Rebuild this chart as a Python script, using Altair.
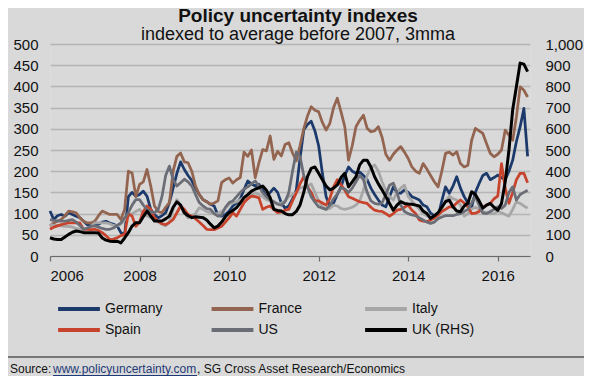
import altair as alt
import pandas as pd

# legend order is filled column by column (2 rows x 3 columns)
series_names = ["Germany", "Spain", "France", "US", "Italy", "UK (RHS)"]
series_colors = ["#1b3a6b", "#c8432c", "#93644f", "#6b6d76", "#a6a6a6", "#000000"]

start_year = 2006
x_ticks = [2006, 2008, 2010, 2012, 2014, 2016]
left_ticks = [0, 50, 100, 150, 200, 250, 300, 350, 400, 450, 500]
right_ticks = [0, 100, 200, 300, 400, 500, 600, 700, 800, 900, 1000]

# monthly values, Jan 2006 .. Sep 2016 (3mma)
germany = [
    106, 86, 95, 98, 94, 102, 98, 94, 90, 82, 74, 71,
    73, 75, 80, 82, 78, 75, 71, 55, 50, 140, 150, 141,
    145, 153, 141, 110, 98, 90, 95, 102, 126, 160, 195, 222,
    204, 190, 178, 160, 145, 133, 128, 122, 118, 96, 94, 98,
    106, 118, 125, 135, 157, 177, 170, 165, 169, 155, 141, 150,
    160, 150, 125, 113, 118, 135, 155, 230, 297, 310, 318, 295,
    260, 195, 140, 118, 125, 145, 163, 190, 210, 200, 195, 198,
    190, 180, 160, 145, 132, 120, 116, 140, 163, 150, 148, 156,
    150, 140, 136, 132, 120, 116, 101, 95, 93, 130, 163, 148,
    165, 187, 160, 140, 125, 116, 150, 171, 190, 195, 180, 185,
    191, 185, 180, 200, 226, 270, 305, 348, 235,
]
france = [
    71, 78, 82, 86, 95, 106, 104, 102, 90, 82, 78, 78,
    82, 95, 106, 102, 98, 98, 98, 86, 110, 200, 196, 140,
    169, 175, 204, 165, 118, 105, 102, 115, 126, 200, 235, 243,
    222, 220, 200, 165, 145, 133, 128, 122, 125, 130, 173, 180,
    184, 172, 180, 185, 245, 235, 250, 185, 220, 251, 248, 283,
    228, 247, 236, 263, 267, 243, 224, 260, 300, 330, 352, 344,
    340, 315, 297, 313, 350, 372, 340, 305, 226, 260, 305, 320,
    332, 301, 293, 295, 305, 280, 240, 226, 240, 250, 258, 245,
    230, 210, 200, 195, 218, 205, 190, 175, 163, 200, 242, 245,
    238, 246, 218, 210, 214, 273, 301, 295, 289, 265, 242, 234,
    240, 250, 297, 285, 273, 328, 399, 391, 375,
]
italy = [
    75, 72, 72, 71, 70, 70, 68, 65, 63, 63, 65, 70,
    78, 78, 78, 78, 76, 72, 71, 75, 85, 94, 100, 105,
    110, 100, 95, 90, 85, 80, 75, 71, 80, 110, 133, 120,
    102, 90, 95, 100, 114, 110, 105, 102, 100, 100, 105, 112,
    122, 125, 128, 133, 138, 141, 145, 149, 145, 140, 133, 130,
    126, 124, 125, 130, 140, 145, 150, 160, 163, 165, 170, 150,
    130, 116, 110, 112, 120, 118, 112, 110, 112, 115, 120, 130,
    155, 190, 207, 215, 200, 175, 155, 140, 132, 150, 160, 167,
    140, 130, 120, 110, 100, 95, 90, 88, 92, 110, 130, 141,
    135, 132, 120, 94, 100, 111, 115, 110, 105, 103, 100, 100,
    105, 102, 98, 94, 110, 128, 124, 118, 113,
]
spain = [
    63, 68, 71, 74, 76, 78, 78, 78, 78, 63, 63, 62,
    63, 60, 55, 48, 39, 40, 43, 48, 51, 100, 94, 70,
    80, 105, 118, 110, 90, 82, 76, 74, 79, 86, 102, 118,
    110, 98, 94, 88, 80, 72, 63, 62, 62, 66, 70, 80,
    90, 102, 94, 110, 126, 135, 141, 140, 137, 110, 115, 118,
    110, 102, 104, 108, 110, 130, 149, 170, 187, 163, 150, 130,
    130, 125, 120, 136, 163, 180, 168, 155, 140, 136, 132, 128,
    126, 124, 115, 108, 106, 105, 100, 94, 100, 108, 110, 115,
    120, 108, 100, 85, 82, 81, 85, 90, 97, 105, 110, 116,
    116, 125, 132, 125, 116, 100, 101, 105, 115, 120, 124, 135,
    141, 218, 160, 124, 150, 180, 195, 195, 173,
]
us = [
    86, 84, 83, 82, 82, 84, 86, 80, 72, 63, 66, 70,
    71, 68, 65, 63, 63, 66, 72, 78, 90, 102, 120, 133,
    133, 120, 110, 104, 102, 110, 140, 190, 212, 180, 165, 173,
    181, 175, 165, 145, 126, 118, 112, 110, 100, 94, 96, 115,
    126, 130, 140, 150, 158, 163, 170, 177, 165, 149, 140, 133,
    128, 122, 120, 128, 150, 200, 245, 236, 190, 163, 140, 127,
    116, 113, 110, 120, 135, 146, 161, 158, 150, 160, 175, 190,
    180, 150, 130, 124, 122, 125, 145, 167, 172, 150, 120, 105,
    100, 97, 95, 90, 85, 80, 77, 80, 88, 92, 95, 95,
    95, 98, 100, 105, 110, 125, 141, 120, 101, 100, 105, 110,
    116, 112, 120, 150, 163, 132, 145, 150, 155,
]
uk_rhs = [
    86, 80, 78, 78, 90, 102, 112, 118, 115, 110, 110, 110,
    110, 108, 85, 75, 70, 68, 70, 62, 85, 110, 141, 157,
    157, 185, 212, 188, 165, 165, 165, 175, 188, 230, 255, 240,
    204, 190, 181, 185, 183, 181, 170, 150, 133, 141, 160, 185,
    204, 215, 228, 250, 275, 290, 306, 315, 322, 330, 310, 275,
    220, 215, 212, 200, 194, 195, 210, 240, 300, 374, 413, 420,
    390, 360, 330, 312, 320, 335, 370, 390, 326, 350, 374, 430,
    452, 452, 420, 374, 340, 312, 280, 248, 216, 240, 256, 248,
    245, 244, 240, 236, 212, 200, 178, 190, 204, 230, 256, 264,
    232, 212, 209, 236, 250, 303, 290, 260, 226, 240, 248, 230,
    216, 248, 350, 500, 690, 800, 910, 905, 870,
]

source_parts = ["Source:", "www.policyuncertainty.com", ", SG Cross Asset Research/Economics"]


def frame(name, vals):
    return pd.DataFrame({
        "t": [start_year + i / 12 for i in range(len(vals))],
        "value": vals,
        "series": name,
    })


df_left = pd.concat([
    frame("Germany", germany),
    frame("France", france),
    frame("Italy", italy),
    frame("Spain", spain),
    frame("US", us),
], ignore_index=True)
df_right = frame("UK (RHS)", uk_rhs)

FONT = "Liberation Sans"

x_enc = alt.X(
    "t:Q",
    scale=alt.Scale(domain=[2006, 2016.72], nice=False, zero=False),
    axis=alt.Axis(values=x_ticks, format="d", title=None, grid=False,
                  domainColor="#6b6b6b", domainWidth=1.2, tickColor="#6b6b6b",
                  tickSize=5, tickWidth=1.2, labelFontSize=15, labelColor="#111111",
                  labelPadding=7, labelFont=FONT),
)

legend = alt.Legend(
    title=None, orient="none", legendX=16, legendY=252, columns=3,
    symbolType="M-1.9,0H1.9", symbolStrokeWidth=4, symbolSize=484,
    labelFontSize=14, labelColor="#111111", labelFont=FONT,
    gridAlign="all", columnPadding=35.5, rowPadding=0, labelOffset=13,
)
color_enc = alt.Color(
    "series:N",
    scale=alt.Scale(domain=series_names, range=series_colors),
    legend=legend,
)

left = alt.Chart(df_left).mark_line(strokeWidth=2.75, strokeJoin="round").encode(
    x=x_enc,
    y=alt.Y("value:Q", scale=alt.Scale(domain=[0, 500], nice=False),
            axis=alt.Axis(values=left_ticks, title=None, grid=True, gridColor="#b5b5b5",
                          gridWidth=1.5, domain=False, ticks=False, labelFontSize=15,
                          labelColor="#111111", labelPadding=12, labelFont=FONT)),
    color=color_enc,
)

right = alt.Chart(df_right).mark_line(strokeWidth=3, strokeJoin="round").encode(
    x=x_enc,
    y=alt.Y("value:Q", scale=alt.Scale(domain=[0, 1000], nice=False),
            axis=alt.Axis(values=right_ticks, orient="right", format=",d", title=None,
                          grid=False, domain=False, ticks=False, labelFontSize=15,
                          labelColor="#111111", labelPadding=15, labelFont=FONT)),
    color=color_enc,
)

sep = alt.Chart(pd.DataFrame({"k": [0]})).mark_rule(color="#555555", strokeWidth=1.5).encode(
    x=alt.value(-42), x2=alt.value(534), y=alt.value(313)
)
src = pd.DataFrame({"s": source_parts})
src1 = alt.Chart(src.iloc[[0]]).mark_text(
    align="left", baseline="alphabetic", fontSize=12, font=FONT, color="#111111"
).encode(x=alt.value(-40), y=alt.value(329), text="s:N")
src2 = alt.Chart(src.iloc[[1]]).mark_text(
    align="left", baseline="alphabetic", fontSize=12, font=FONT, color="#1f3a78"
).encode(x=alt.value(3), y=alt.value(329), text="s:N")
src3 = alt.Chart(src.iloc[[2]]).mark_text(
    align="left", baseline="alphabetic", fontSize=12, font=FONT, color="#111111"
).encode(x=alt.value(147), y=alt.value(329), text="s:N")
underline = alt.Chart(pd.DataFrame({"k": [0]})).mark_rule(color="#1f3a78", strokeWidth=1).encode(
    x=alt.value(3), x2=alt.value(147), y=alt.value(331.5)
)

chart = alt.layer(left, right, sep, src1, src2, src3, underline).resolve_scale(
    y="independent"
).properties(
    width=480, height=212,
    padding={"left": 42, "top": 36, "right": 54, "bottom": 120},
    autosize=alt.AutoSizeParams(type="none"),
    background="#d9d9d9",
    title=alt.TitleParams(
        text="Policy uncertainty indexes",
        subtitle="indexed to average before 2007, 3mma",
        fontSize=19, fontWeight="bold", color="#111111", font=FONT,
        subtitleFontSize=18, subtitleColor="#111111", subtitleFont=FONT,
        anchor="middle", offset=-7, subtitlePadding=0, dx=8,
    ),
).configure_view(stroke=None).configure(font=FONT)

chart.save("out.html", embed_options={"renderer": "svg", "actions": False})
